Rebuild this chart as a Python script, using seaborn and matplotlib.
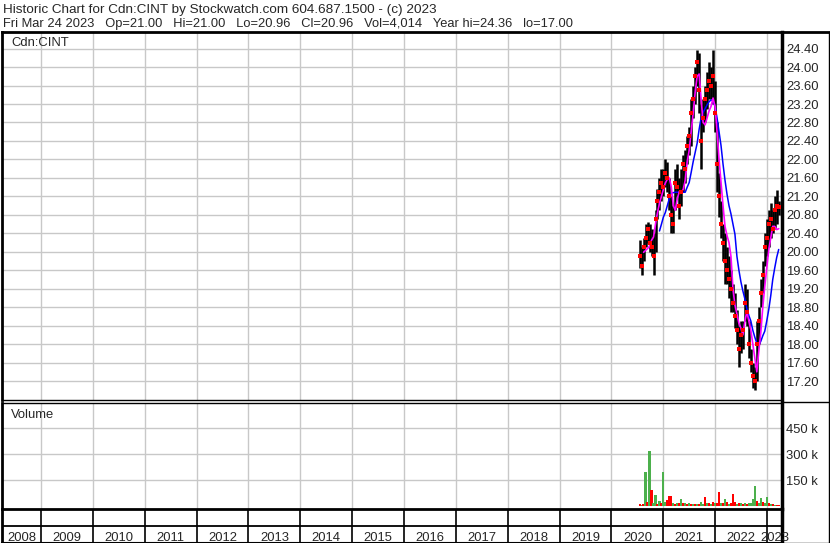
import numpy as np
import pandas as pd
import matplotlib
matplotlib.use("Agg")
import matplotlib.pyplot as plt
import seaborn as sns
from matplotlib.lines import Line2D

# biweekly samples, last one is Fri Mar 24 2023
dates = pd.date_range(end="2023-03-24", periods=71, freq="14D")

highs = [20.25, 20.1, 20.3, 20.6, 20.65, 20.6, 20.5, 20.4, 20.9, 21.35,
         21.6, 21.8, 21.8, 22.0, 21.95, 21.6, 21.2, 21.0, 21.8, 21.9,
         21.6, 21.8, 22.1, 22.2, 22.5, 22.7, 23.3, 23.6, 24.0, 24.37,
         24.3, 23.2, 23.3, 23.6, 23.9, 24.1, 24.0, 24.37, 23.7, 22.8,
         21.7, 21.1, 20.6, 20.4, 20.1, 19.9, 19.6, 19.3, 19.1, 18.75,
         18.4, 18.5, 18.5, 19.3, 19.2, 18.5, 17.9, 17.6, 17.5, 18.5,
         18.8, 19.4, 19.8, 20.4, 20.7, 20.9, 21.05, 20.9, 21.2, 21.33,
         21.1]
lows = [19.65, 19.5, 19.8, 20.1, 20.2, 20.0, 19.9, 19.5, 20.0, 20.7,
        20.9, 21.1, 21.2, 21.4, 21.3, 20.9, 20.4, 20.4, 20.9, 21.2,
        20.7, 21.0, 21.3, 21.5, 21.9, 22.1, 22.3, 22.9, 23.2, 23.6,
        23.0, 21.8, 22.6, 22.8, 23.1, 23.3, 23.3, 23.2, 22.6, 21.3,
        20.75, 20.3, 19.8, 19.3, 19.3, 19.0, 18.7, 18.7, 18.35, 18.0,
        17.5, 17.8, 17.9, 18.5, 18.4, 17.7, 17.4, 17.05, 17.0, 17.2,
        18.0, 18.8, 19.1, 19.7, 19.9, 20.1, 20.3, 20.4, 20.5, 20.6,
        20.8]
closes = [19.9, 19.7, 20.1, 20.3, 20.5, 20.2, 20.1, 19.9, 20.7, 21.1,
          21.3, 21.5, 21.4, 21.7, 21.6, 21.2, 20.8, 20.6, 21.5, 21.4,
          21.0, 21.3, 21.9, 21.8, 22.3, 22.5, 23.0, 23.3, 23.8, 24.1,
          23.5, 22.4, 22.9, 23.3, 23.5, 23.7, 23.6, 23.8, 23.0, 21.9,
          21.2, 20.6, 20.2, 19.8, 19.6, 19.4, 19.2, 18.9, 18.6, 18.3,
          17.9, 18.2, 18.3, 18.9, 18.7, 18.0, 17.6, 17.3, 17.2, 18.0,
          18.5, 19.1, 19.5, 20.1, 20.3, 20.6, 20.7, 20.5, 20.9, 21.0,
          20.96]
# magenta (short) and blue (long) moving averages as drawn
ma_short = [np.nan, np.nan, 19.99, 20.03, 20.07, 20.12, 20.25, 20.32, 20.6, 20.85,
            21.05, 21.2, 21.35, 21.49, 21.57, 21.6, 21.4, 21.0, 20.9, 21.15,
            21.3, 21.3, 21.35, 21.55, 21.95, 22.2, 22.6, 23.0, 23.45, 23.8,
            23.85, 23.3, 22.8, 22.75, 22.9, 23.05, 23.15, 23.33, 23.15, 22.6,
            22.0, 21.5, 21.0, 20.55, 20.35, 20.2, 19.9, 19.2, 18.85, 18.65,
            18.45, 18.35, 18.2, 18.5, 18.7, 18.5, 18.3, 18.0, 17.7, 17.4,
            17.85, 18.25, 18.8, 19.25, 19.65, 20.05, 20.3, 20.55, 20.55, 20.48,
            20.5]
ma_long = [np.nan] * 10 + [
    20.45, 20.6, 20.75, 20.85, 21.0, 21.15, 21.27, 21.28, 21.29, 21.29,
    21.29, 21.29, 21.29, 21.29, 21.4, 21.5, 21.72, 21.95, 22.15, 22.35,
    22.65, 22.9, 23.02, 23.1, 23.18, 23.25, 23.29, 23.27, 23.15, 22.9,
    22.6, 22.3, 21.9, 21.55, 21.25, 21.0, 20.82, 20.6, 20.38, 19.9,
    19.6, 19.35, 19.15, 18.98, 18.77, 18.62, 18.5, 18.3, 18.15, 18.02,
    17.98, 18.06, 18.18, 18.28, 18.5, 18.75, 19.05, 19.4, 19.65, 19.88,
    20.05]
volume_k = [12, 10, 15, 198, 25, 317, 94, 20, 63, 15,
            29, 20, 198, 25, 35, 58, 58, 20, 15, 20,
            18, 40, 22, 20, 15, 18, 12, 15, 14, 12,
            16, 23, 14, 52, 18, 20, 14, 25, 20, 18,
            85, 18, 22, 40, 28, 15, 20, 70, 27, 15,
            20, 18, 14, 20, 15, 22, 18, 45, 120, 30,
            20, 46, 25, 18, 52, 20, 15, 12, 10, 8,
            6]
vol_up = [0, 1, 0, 1, 0, 1, 0, 1, 1, 0,
          1, 0, 1, 1, 0, 0, 0, 1, 0, 1,
          0, 1, 0, 1, 0, 1, 0, 1, 0, 1,
          0, 1, 1, 0, 1, 0, 1, 0, 1, 0,
          0, 1, 0, 1, 0, 1, 0, 0, 0, 1,
          0, 1, 0, 1, 0, 1, 1, 1, 1, 0,
          1, 1, 0, 1, 1, 0, 1, 0, 1, 0,
          0]

years = list(range(2008, 2024))
price_ticks = [17.2, 17.6, 18.0, 18.4, 18.8, 19.2, 19.6, 20.0, 20.4, 20.8,
               21.2, 21.6, 22.0, 22.4, 22.8, 23.2, 23.6, 24.0, 24.4]
vol_ticks = [150000, 300000, 450000]
vol_labels = ["150 k", "300 k", "450 k"]

header1 = "Historic Chart for Cdn:CINT by Stockwatch.com 604.687.1500 - (c) 2023"
header2 = ("Fri Mar 24 2023   Op=21.00   Hi=21.00   Lo=20.96   Cl=20.96   "
           "Vol=4,014   Year hi=24.36   lo=17.00")

df = pd.DataFrame({"date": dates, "high": highs, "low": lows, "close": closes,
                   "ma_short": ma_short, "ma_long": ma_long,
                   "volume": np.array(volume_k) * 1000, "up": vol_up})
df["t"] = df.date.dt.year + (df.date.dt.dayofyear - 1) / 365.25

sns.set_style("white")
plt.rcParams["font.family"] = ["Liberation Sans", "DejaVu Sans"]
FS = 9.4
GRID = "#c8c8c8"
XLIM = (2008.247, 2023.288)

W, H = 830, 543
fig = plt.figure(figsize=(W / 100, H / 100), dpi=100)


def box(l, t, r, b):
    return [l / W, 1 - b / H, (r - l) / W, (b - t) / H]


ax = fig.add_axes(box(2, 32, 782, 400))
axv = fig.add_axes(box(2, 403, 782, 509))
axy = fig.add_axes(box(2, 509, 782, 543))

for a in (ax, axv):
    a.set_xlim(XLIM)
    a.set_xticks(years[1:])
    a.tick_params(axis="x", length=0, labelbottom=False)
    a.yaxis.tick_right()
    a.tick_params(axis="y", length=0, pad=3, labelsize=FS)
    a.grid(True, color=GRID, lw=1)
    a.set_axisbelow(True)

# price panel
ax.set_ylim(16.79, 24.76)
ax.set_yticks(price_ticks)
ax.set_yticklabels([f"{v:.2f}" for v in price_ticks])
ax.vlines(df.t, df.low, df.high, color="black", lw=1.8, zorder=2)
sns.lineplot(data=df, x="t", y="ma_long", ax=ax, color="#0000ff", lw=1.1, zorder=3)
sns.lineplot(data=df, x="t", y="ma_short", ax=ax, color="#ff00ff", lw=1.2, zorder=4)
sns.scatterplot(data=df, x="t", y="close", ax=ax, color="red", marker="s", s=6,
                linewidth=0, zorder=5)
ax.set_xlabel("")
ax.set_ylabel("")
ax.text(9 / 780, 1 - 13.5 / 368, "Cdn:CINT", transform=ax.transAxes,
        fontsize=FS, va="baseline")

# volume panel
axv.set_ylim(-15000, 596000)
axv.set_yticks(vol_ticks)
axv.set_yticklabels(vol_labels)
bar_colors = ["#4cb04c" if u == 1 else "#ff0000" for u in df.up]
axv.bar(df.t, df.volume, width=0.042, color=bar_colors, linewidth=0,
        antialiased=False, zorder=2)
axv.text(9 / 780, 1 - 15 / 106, "Volume", transform=axv.transAxes,
         fontsize=FS, va="baseline")

# year strip
axy.set_xlim(XLIM)
axy.set_ylim(0, 1)
axy.set_xticks([])
axy.set_yticks([])
axy.axhline(0.5, color="black", lw=1.3)
axy.vlines(years[1:], 0, 1, color="black", lw=1.2)
for y in years:
    lo, hi = max(y, XLIM[0]), min(y + 1, XLIM[1])
    axy.text((lo + hi) / 2, 0.06, str(y), ha="center", va="baseline",
             fontsize=FS, clip_on=False)

for a in (ax, axv, axy):
    for s in a.spines.values():
        s.set_color("black")
    a.spines["left"].set_linewidth(2)
    a.spines["right"].set_linewidth(2.5)
ax.spines["top"].set_linewidth(2)
ax.spines["bottom"].set_linewidth(1)
axv.spines["top"].set_linewidth(1)
axv.spines["bottom"].set_visible(False)
axy.spines["top"].set_linewidth(2)
axy.spines["bottom"].set_linewidth(1.5)


def fline(xs, ys, lw=1.0):
    fig.add_artist(Line2D([x / W for x in xs], [1 - y / H for y in ys],
                          color="black", lw=lw))


fline([782, 830], [32, 32], 2)
fline([782, 830], [401.5, 401.5], 1)
fline([828.5, 828.5], [32, 543], 1)
fline([782, 830], [542.5, 542.5], 1)

fig.text(3 / W, 1 - 12.5 / H, header1, fontsize=9.7, va="baseline")
fig.text(3 / W, 1 - 27 / H, header2, fontsize=9.3, va="baseline")

fig.savefig("out.png", dpi=100)
